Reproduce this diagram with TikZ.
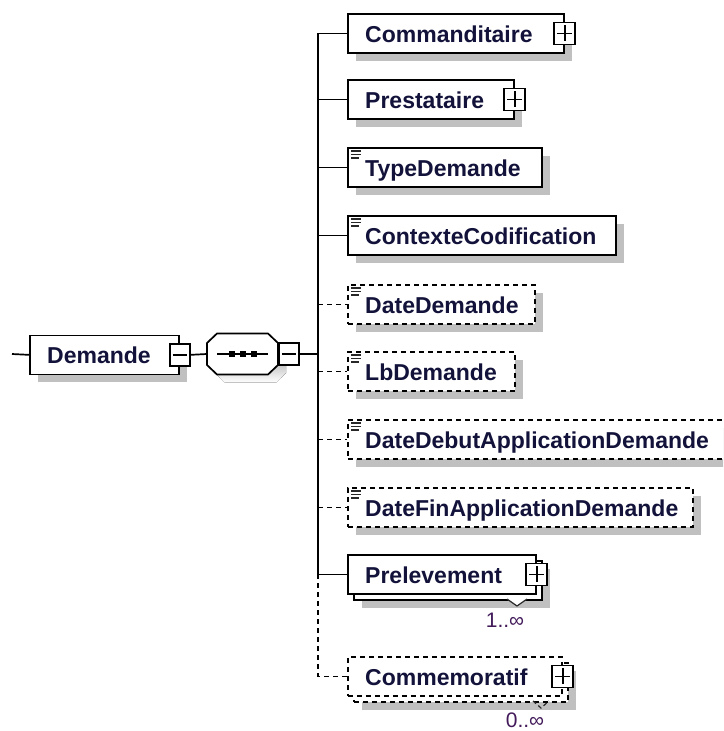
\documentclass[tikz,border=0pt]{standalone}
\usepackage{fontspec}
\setmainfont{Liberation Sans}
\usetikzlibrary{shadows}
\definecolor{shade}{RGB}{192,192,192}
\definecolor{namecol}{RGB}{18,18,58}
\definecolor{occcol}{RGB}{66,26,90}
\definecolor{iconcol}{RGB}{40,40,40}

\begin{document}
\begin{tikzpicture}[x=1pt,y=-1pt,
  box/.style={draw, line width=1.7pt, fill=white, inner sep=0pt,
    anchor=north west, minimum height=39pt},
  shadowed/.style={box, drop shadow={shadow xshift=8pt, shadow yshift=-8pt,
    fill=shade, opacity=1}},
  optional/.style={dash pattern=on 5pt off 4pt},
  ename/.style={font=\fontsize{23}{28}\selectfont\bfseries, text=namecol,
    inner sep=0pt, anchor=base west},
  occ/.style={font=\fontsize{21}{25}\selectfont, text=occcol, inner sep=0pt},
  conn/.style={line width=1.7pt},
  pmbox/.style={draw, fill=white, line width=1.6pt, inner sep=0pt,
    minimum width=21pt, minimum height=22pt},
  plusbox/.style={pmbox, path picture={
    \draw[line width=1.6pt]
      ([xshift=3pt]path picture bounding box.west) -- ([xshift=-3pt]path picture bounding box.east)
      ([yshift=-3pt]path picture bounding box.north) -- ([yshift=3pt]path picture bounding box.south);}},
  minusbox/.style={pmbox, minimum width=20pt, path picture={
    \draw[line width=1.6pt]
      ([xshift=3pt]path picture bounding box.west) -- ([xshift=-3pt]path picture bounding box.east);}},
  simpleicon/.pic={
    \draw[iconcol, line width=1.3pt] (4,4) -- (14,4) (4,7.5) -- (14,7.5) (4,11) -- (12,11);},
  octagon/.style={line width=1.7pt}
]
\path[use as bounding box] (0,0) rectangle (723,731);
\clip (0,0) rectangle (723,731);

% root element
\node[shadowed, minimum width=149pt] (dem) at (29,334.5) {};
\node[ename] (demT) at ([xshift=18pt,yshift=-9pt]dem.west) {Demande};
\node[minusbox] (demM) at (dem.east) {};

% sequence compositor (octagon with its shadow)
\node[minimum width=71pt, minimum height=41pt, inner sep=0pt] (seq) at (242.5,354) {};
\fill[shade, shift={(8,8)}] (217,333.5) -- (268,333.5) -- (278,343) -- (278,365)
  -- (268,374.5) -- (217,374.5) -- (207,365) -- (207,343) -- cycle;
\filldraw[octagon, fill=white] (217,333.5) -- (268,333.5) -- (278,343) -- (278,365)
  -- (268,374.5) -- (217,374.5) -- (207,365) -- (207,343) -- cycle;
\draw[line width=1.6pt] (217,354) -- (268,354);
\foreach \d in {232,243,254} \fill (\d-3,351) rectangle (\d+3,357);
\node[minusbox, anchor=west] (seqM) at (278,354) {};

% child elements
\node[shadowed, minimum width=216pt] (comm) at (347,13) {};
\node[ename] at ([xshift=18pt,yshift=-9pt]comm.west) {Commanditaire};
\node[plusbox] (commP) at (comm.east) {};

\node[shadowed, minimum width=166pt] (prest) at (347,79) {};
\node[ename] at ([xshift=18pt,yshift=-9pt]prest.west) {Prestataire};
\node[plusbox] (prestP) at (prest.east) {};

\node[shadowed, minimum width=194pt] (type) at (347,147) {};
\pic at (type.north west) {simpleicon};
\node[ename] at ([xshift=18pt,yshift=-9pt]type.west) {TypeDemande};

\node[shadowed, minimum width=268pt] (ctx) at (347,215) {};
\pic at (ctx.north west) {simpleicon};
\node[ename] at ([xshift=18pt,yshift=-9pt]ctx.west) {ContexteCodification};

\node[shadowed, optional, minimum width=187pt] (dated) at (347,284) {};
\pic at (dated.north west) {simpleicon};
\node[ename] at ([xshift=18pt,yshift=-9pt]dated.west) {DateDemande};

\node[shadowed, optional, minimum width=167pt] (lb) at (347,351) {};
\pic at (lb.north west) {simpleicon};
\node[ename] at ([xshift=18pt,yshift=-9pt]lb.west) {LbDemande};

\node[shadowed, optional, minimum width=379pt] (debut) at (347,419) {};
\pic at (debut.north west) {simpleicon};
\node[ename] at ([xshift=18pt,yshift=-9pt]debut.west) {DateDebutApplicationDemande};

\node[shadowed, optional, minimum width=345pt] (fin) at (347,487) {};
\pic at (fin.north west) {simpleicon};
\node[ename] at ([xshift=18pt,yshift=-9pt]fin.west) {DateFinApplicationDemande};

% repeated element: stacked boxes
\node[shadowed, minimum width=188pt] (prelB) at (353,560) {};
\filldraw[line width=1.2pt, draw=iconcol, fill=white] (507,599) -- (517,606) -- (527,599);
\node[box, minimum width=188pt] (prel) at (347,554) {};
\node[ename] at ([xshift=18pt,yshift=-9pt]prel.west) {Prelevement};
\node[plusbox] (prelP) at (prel.east) {};
\node[occ] (prelO) at (505,620.5) {1..∞};

% optional repeated element
\node[shadowed, optional, minimum width=214pt] (commemB) at (353,662) {};
\draw[line width=1.2pt, iconcol, dash pattern=on 4pt off 3pt] (533,701) -- (541,708) -- (549,701);
\node[box, optional, minimum width=214pt] (commem) at (347,656) {};
\node[ename] at ([xshift=18pt,yshift=-9pt]commem.west) {Commemoratif};
\node[plusbox] (commemP) at (commem.east) {};
\node[occ] (commemO) at (525,720) {0..∞};

% connectors
\coordinate (src) at (12,354);
\coordinate (bus) at (318,354);
\draw[conn] (src) -- (dem.west);
\draw[conn] (demM.east) -- (seq.west);
\draw[conn] (seqM.east) -- (bus);
\draw[conn] (comm.west -| bus) -- (prel.west -| bus);
\draw[conn] (comm.west -| bus) -- (comm.west);
\draw[conn] (prest.west -| bus) -- (prest.west);
\draw[conn] (type.west -| bus) -- (type.west);
\draw[conn] (ctx.west -| bus) -- (ctx.west);
\draw[conn, optional] (dated.west -| bus) -- (dated.west);
\draw[conn, optional] (lb.west -| bus) -- (lb.west);
\draw[conn, optional] (debut.west -| bus) -- (debut.west);
\draw[conn, optional] (fin.west -| bus) -- (fin.west);
\draw[conn] (prel.west -| bus) -- (prel.west);
\draw[conn, optional] (prel.west -| bus) |- (commem.west);
\end{tikzpicture}
\end{document}
